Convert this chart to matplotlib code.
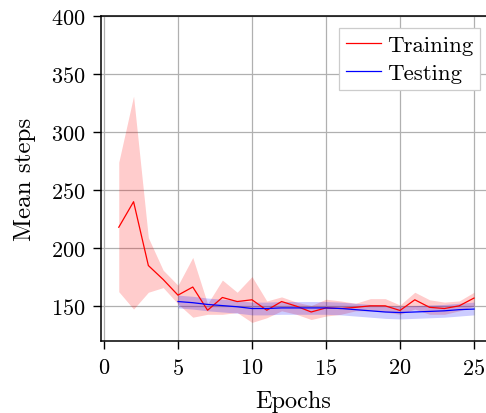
import matplotlib
matplotlib.use("Agg")
import matplotlib.pyplot as plt
import numpy as np

plt.rcParams['font.family'] = ['cmr10', 'DejaVu Serif']
plt.rcParams['mathtext.fontset'] = 'cm'
plt.rcParams['axes.unicode_minus'] = False
plt.rcParams['axes.formatter.use_mathtext'] = True

train_epochs = list(range(1, 26))
train_mean = [218, 240, 185, 173, 159.5, 166.5, 146.5, 157.5, 154, 155.5, 146.5, 154, 150,
              145, 148.5, 148, 149, 150.3, 150.3, 146.3, 155.5, 149, 148, 150.3, 157]
train_upper = [274, 331, 209, 181, 168, 192, 152, 172.5, 162, 175.5, 154.5, 158, 153.5,
               150.5, 156, 154.5, 152.5, 156.5, 156.5, 151, 162, 155.5, 153.5, 154.5, 162]
train_lower = [162.5, 147.5, 162, 166, 152, 140.5, 143, 143, 144.5, 136, 140, 146, 143,
               138.5, 141.5, 143, 146, 146, 145, 143, 147.5, 143, 143, 146, 150]

test_epochs = list(range(5, 26))
test_mean = [154, 153, 151.5, 150.5, 149.5, 148, 148, 148.5, 148.5, 148.5, 148.5, 148, 147,
             146, 145, 144.5, 145, 145.5, 146, 147, 147.5]
test_upper = [159.5, 158.5, 157, 156, 155, 153.5, 153.5, 154, 154, 154, 154, 153.5, 152.5,
              151.5, 150.5, 150, 150.5, 151, 151.5, 152.5, 153.5]
test_lower = [148.5, 147.5, 146, 145, 144, 142.5, 142.5, 143, 143, 143, 143, 142.5, 141.5,
              140.5, 139.5, 139, 139.5, 140, 140.5, 141.5, 142.5]

fig = plt.figure(figsize=(4.86, 4.14), dpi=100)
ax = fig.add_axes([101/486, 72/414, 385/486, 325/414])

ax.fill_between(train_epochs, train_lower, train_upper, color='red', alpha=0.2, linewidth=0)
ax.fill_between(test_epochs, test_lower, test_upper, color='blue', alpha=0.2, linewidth=0)
ax.plot(train_epochs, train_mean, color='red', linewidth=0.9, label='Training')
ax.plot(test_epochs, test_mean, color='blue', linewidth=0.9, label='Testing')

ax.set_xlim(-0.2, 25.81)
ax.set_ylim(120, 400)
ax.set_xticks([0, 5, 10, 15, 20, 25])
ax.set_yticks([150, 200, 250, 300, 350, 400])
ax.grid(True, color='#b0b0b0', linewidth=0.9)
ax.set_axisbelow(True)
ax.spines['right'].set_visible(False)
for s in ['left', 'bottom', 'top']:
    ax.spines[s].set_linewidth(1.1)
ax.tick_params(axis='both', direction='out', length=6, width=1.0, labelsize=16)
ax.tick_params(axis='x', pad=6)
ax.tick_params(axis='y', pad=5)
ax.set_xlabel('Epochs', fontsize=17.5, labelpad=9)
ax.set_ylabel('Mean steps', fontsize=18, labelpad=11)

leg = ax.legend(loc='upper right', bbox_to_anchor=(0.997, 0.976), fontsize=16.5,
                fancybox=False, edgecolor='#cccccc', framealpha=1.0,
                handlelength=1.55, borderpad=0.3, labelspacing=0.35, handletextpad=0.25,
                borderaxespad=0.2)
leg.get_frame().set_linewidth(0.9)

fig.savefig('out.png', dpi=100)
